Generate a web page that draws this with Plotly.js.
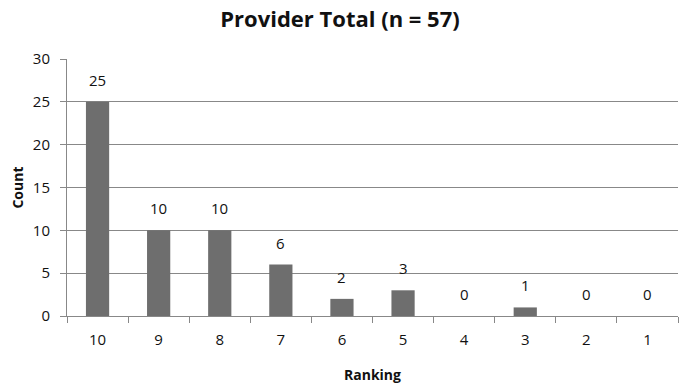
<!DOCTYPE html>
<html><head><meta charset="utf-8">
<script src="https://cdn.plot.ly/plotly-3.0.1.min.js"></script>
<style>html,body{margin:0;padding:0;background:#fff}</style>
</head><body>
<div id="chart" style="width:680px;height:391px"></div>
<script>
var rankings = ["10","9","8","7","6","5","4","3","2","1"];
var counts = [25,10,10,6,2,3,0,1,0,0];
var titleText = "Provider Total (n = 57)";
var xTitle = "Ranking";
var yTitle = "Count";

var FONT = "Open Sans, sans-serif";

var trace = {
  type: "bar",
  x: rankings,
  y: counts,
  marker: {color: "#6e6e6e", line: {width: 0}},
  hoverinfo: "none"
};
var labels = rankings.map(function (r, i) {
  return {x: i, y: counts[i], text: String(counts[i]), showarrow: false,
          yanchor: "bottom", yshift: 10, xref: "x", yref: "y",
          font: {family: FONT, size: 15, color: "#111"}};
});
var layout = {
  width: 680, height: 391,
  margin: {l: 67, r: 2, t: 59, b: 75},
  paper_bgcolor: "#fff", plot_bgcolor: "#fff",
  bargap: 0.62,
  showlegend: false,
  annotations: labels,
  title: {text: "<b>" + titleText + "</b>", x: 0.5, xanchor: "center", y: 0.95, yanchor: "middle",
          font: {family: FONT, size: 22, color: "#111"}},
  xaxis: {
    type: "category",
    range: [-0.5, rankings.length - 0.5],
    showline: true, linecolor: "#888", linewidth: 1,
    ticks: "outside", tickson: "boundaries", ticklen: 6, tickcolor: "#888",
    ticklabelstandoff: 10,
    tickfont: {family: FONT, size: 15, color: "#111"},
    showgrid: false,
    title: {text: "<b>" + xTitle + "</b>", font: {family: FONT, size: 14, color: "#111"}, standoff: 22}
  },
  yaxis: {
    range: [0, 30], dtick: 5,
    showline: true, linecolor: "#888", linewidth: 1,
    ticks: "outside", ticklen: 6, tickcolor: "#888",
    ticklabelstandoff: 7,
    showgrid: true, gridcolor: "#888", gridwidth: 1,
    zeroline: false,
    tickfont: {family: FONT, size: 15, color: "#111"},
    title: {text: "<b>" + yTitle + "</b>", font: {family: FONT, size: 14, color: "#111"}, standoff: 5}
  }
};
Plotly.newPlot("chart", [trace], layout, {displayModeBar: false, staticPlot: true});
</script>
</body></html>
